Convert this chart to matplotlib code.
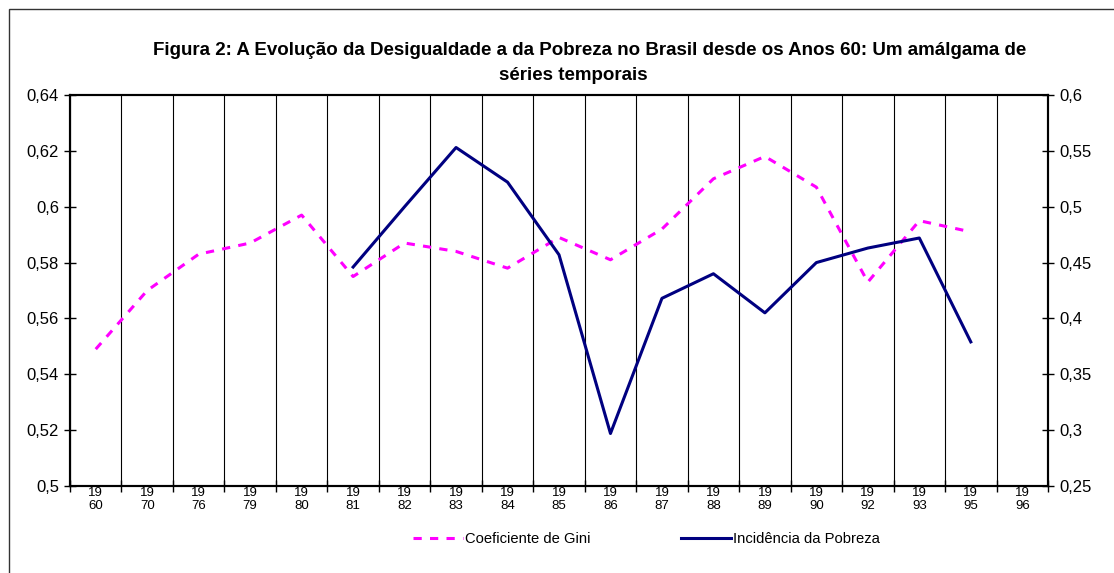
import matplotlib
matplotlib.use('Agg')
import matplotlib.pyplot as plt
import numpy as np
from matplotlib.patches import Rectangle

plt.rcParams['font.family'] = ['Liberation Sans', 'DejaVu Sans']

# Dados
anos = ['1960', '1970', '1976', '1979', '1980', '1981', '1982', '1983', '1984', '1985',
        '1986', '1987', '1988', '1989', '1990', '1992', '1993', '1995', '1996']
gini = [0.549, 0.570, 0.583, 0.587, 0.597, 0.575, 0.587, 0.584, 0.578, 0.589,
        0.581, 0.592, 0.610, 0.618, 0.607, 0.573, 0.595, 0.591, np.nan]
pobreza = [np.nan, np.nan, np.nan, np.nan, np.nan, 0.446, 0.500, 0.553, 0.522, 0.457,
           0.297, 0.418, 0.440, 0.405, 0.450, 0.463, 0.472, 0.379, np.nan]
esq_ticks = [0.5, 0.52, 0.54, 0.56, 0.58, 0.6, 0.62, 0.64]
dir_ticks = [0.25, 0.3, 0.35, 0.4, 0.45, 0.5, 0.55, 0.6]

W, H = 1114, 573
fig = plt.figure(figsize=(W / 100, H / 100), dpi=100)
ax = fig.add_axes([70 / W, 1 - 486 / H, (1048 - 70) / W, (486 - 95) / H])
ax2 = ax.twinx()

x = np.arange(len(anos))
l1, = ax.plot(x, gini, color='#FF00FF', lw=2.2, dashes=(2.7, 2.7), label='Coeficiente de Gini')
l2, = ax2.plot(x, pobreza, color='#000080', lw=2.2, label='Incidência da Pobreza')

# Eixo x: categorias com linhas entre elas
ax.set_xlim(-0.5, len(anos) - 0.5)
ax.set_xticks(x)
ax.set_xticklabels([a[:2] + '\n' + a[2:] for a in anos], fontsize=9.5, linespacing=1.05)
ax.tick_params(axis='x', which='major', length=0, pad=1)
ax.set_xticks(np.arange(-0.5, len(anos)), minor=True)
ax.tick_params(axis='x', which='minor', direction='inout', length=8, width=1)
ax.grid(axis='x', which='minor', color='black', lw=0.8)

ax.set_ylim(0.5, 0.64)
ax.set_yticks(esq_ticks)
ax.set_yticklabels([('%g' % v).replace('.', ',') for v in esq_ticks], fontsize=12)
ax.tick_params(axis='y', direction='inout', length=8, width=1, pad=4)

ax2.set_ylim(0.25, 0.6)
ax2.set_yticks(dir_ticks)
ax2.set_yticklabels([('%g' % v).replace('.', ',') for v in dir_ticks], fontsize=12)
ax2.tick_params(axis='y', direction='inout', length=8, width=1, pad=4)

for a in (ax, ax2):
    for s in a.spines.values():
        s.set_linewidth(1.5)
        s.set_color('black')

# Título
fig.text(590 / W, 1 - 55 / H, 'Figura 2: A Evolução da Desigualdade a da Pobreza no Brasil desde os Anos 60: Um amálgama de',
         ha='center', va='baseline', fontsize=13.5, fontweight='bold')
fig.text(573 / W, 1 - 80 / H, 'séries temporais', ha='center', va='baseline', fontsize=13.5, fontweight='bold')

# Legenda
fig.legend(handles=[l1, l2], loc='center left', bbox_to_anchor=(413 / W, 1 - 539 / H),
           ncol=2, frameon=False, fontsize=10.6, handlelength=3.4, handletextpad=0.1,
           columnspacing=6.2, borderpad=0, borderaxespad=0)

# Moldura do gráfico
fig.patches.append(Rectangle((9 / W, -0.1), 1.2, 1.1 - 9 / H, transform=fig.transFigure,
                             fill=False, edgecolor='#333333', lw=1))

fig.savefig('out.png', dpi=100)
